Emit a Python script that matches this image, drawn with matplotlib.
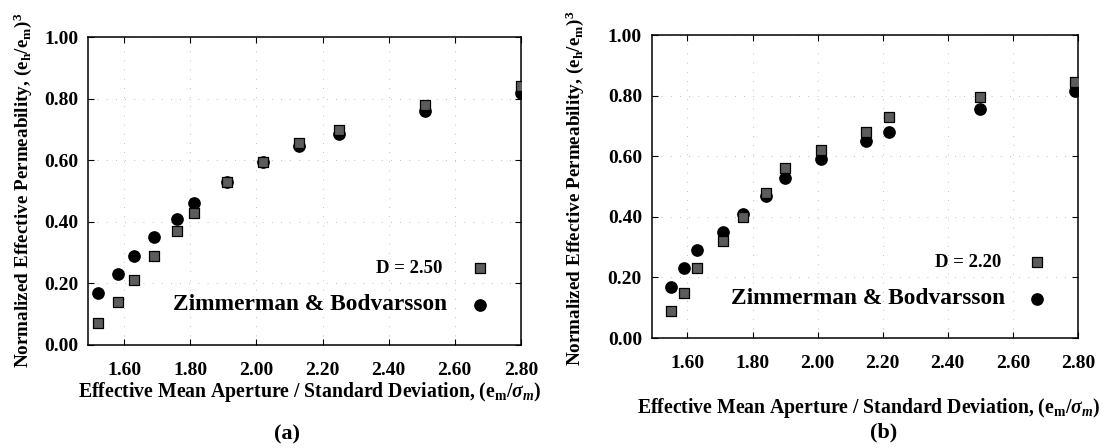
import matplotlib
matplotlib.use("Agg")
import matplotlib.pyplot as plt

plt.rcParams['font.family'] = ['Liberation Serif', 'DejaVu Serif']
plt.rcParams['font.weight'] = 'bold'
plt.rcParams['mathtext.fontset'] = 'custom'
plt.rcParams['mathtext.rm'] = 'Liberation Serif:bold'
plt.rcParams['mathtext.it'] = 'Liberation Serif:bold:italic'
plt.rcParams['mathtext.bf'] = 'Liberation Serif:bold'

# panel (a): D = 2.50
xa = [1.52, 1.58, 1.63, 1.69, 1.76, 1.81, 1.91, 2.02, 2.13, 2.25, 2.51, 2.80]
sq_a = [0.07, 0.14, 0.21, 0.29, 0.37, 0.43, 0.53, 0.595, 0.655, 0.70, 0.78, 0.84]
zb_a = [0.17, 0.23, 0.29, 0.35, 0.41, 0.46, 0.53, 0.595, 0.645, 0.685, 0.76, 0.82]

# panel (b): D = 2.20
xb = [1.55, 1.59, 1.63, 1.71, 1.77, 1.84, 1.90, 2.01, 2.15, 2.22, 2.50, 2.79]
sq_b = [0.09, 0.15, 0.23, 0.32, 0.40, 0.48, 0.56, 0.62, 0.68, 0.73, 0.795, 0.847]
zb_b = [0.17, 0.23, 0.29, 0.35, 0.41, 0.47, 0.53, 0.59, 0.65, 0.68, 0.755, 0.816]

xticks = [1.60, 1.80, 2.00, 2.20, 2.40, 2.60, 2.80]
yticks = [0.00, 0.20, 0.40, 0.60, 0.80, 1.00]

xlabel = r'Effective Mean Aperture / Standard Deviation, $(\mathrm{e_m}/\sigma_m)$'
ylabel = r'Normalized Effective Permeability, $(\mathrm{e_h/e_m})^3$'

fig = plt.figure(figsize=(11.04, 4.48), dpi=100)
ax_a = fig.add_axes([0.0797, 0.230, 0.392, 0.687])
ax_b = fig.add_axes([0.5903, 0.2455, 0.386, 0.676])


def draw(ax, x, sq, zb, dlabel):
    ax.scatter(x, zb, s=66, marker='o', color='black', zorder=3)
    ax.scatter(x, sq, s=56, marker='s', facecolor='#5c5c5c',
               edgecolor='black', linewidth=0.9, zorder=4)
    ax.set_xlim(1.49, 2.80)
    ax.set_ylim(0, 1.0)
    ax.set_xticks(xticks)
    ax.set_yticks(yticks)
    ax.set_xticklabels(['%.2f' % v for v in xticks])
    ax.set_yticklabels(['%.2f' % v for v in yticks])
    ax.tick_params(direction='in', top=True, right=True, length=4,
                   width=0.8, labelsize=14)
    ax.tick_params(axis='x', pad=12)
    ax.tick_params(axis='y', pad=7)
    for s in ax.spines.values():
        s.set_linewidth(1.1)
    ax.grid(True, linestyle=(0, (1, 10)), color='#aaaaaa', linewidth=0.6)
    ax.set_axisbelow(True)
    # legend entries
    ax.text(0.82, 0.25, dlabel, transform=ax.transAxes, ha='right',
            va='center', fontsize=13.5)
    ax.scatter([0.905], [0.25], transform=ax.transAxes, s=56, marker='s',
               facecolor='#5c5c5c', edgecolor='black', linewidth=0.9,
               zorder=5, clip_on=False)
    ax.text(0.83, 0.13, 'Zimmerman & Bodvarsson', transform=ax.transAxes,
            ha='right', va='center', fontsize=16.8)
    ax.scatter([0.905], [0.13], transform=ax.transAxes, s=66, marker='o',
               color='black', zorder=5, clip_on=False)


draw(ax_a, xa, sq_a, zb_a, 'D = 2.50')
draw(ax_b, xb, sq_b, zb_b, 'D = 2.20')

fig.text(0.2803, 0.125, xlabel, ha='center', va='center', fontsize=14.2)
fig.text(0.787, 0.0893, xlabel, ha='center', va='center', fontsize=14.2)
fig.text(0.0208, 0.576, ylabel, ha='center', va='center', rotation=90,
         fontsize=13.8)
fig.text(0.5208, 0.579, ylabel, ha='center', va='center', rotation=90,
         fontsize=13.8)
fig.text(0.26, 0.03, '(a)', ha='center', va='center', fontsize=16)
fig.text(0.80, 0.035, '(b)', ha='center', va='center', fontsize=16)

fig.savefig('out.png', dpi=100)
